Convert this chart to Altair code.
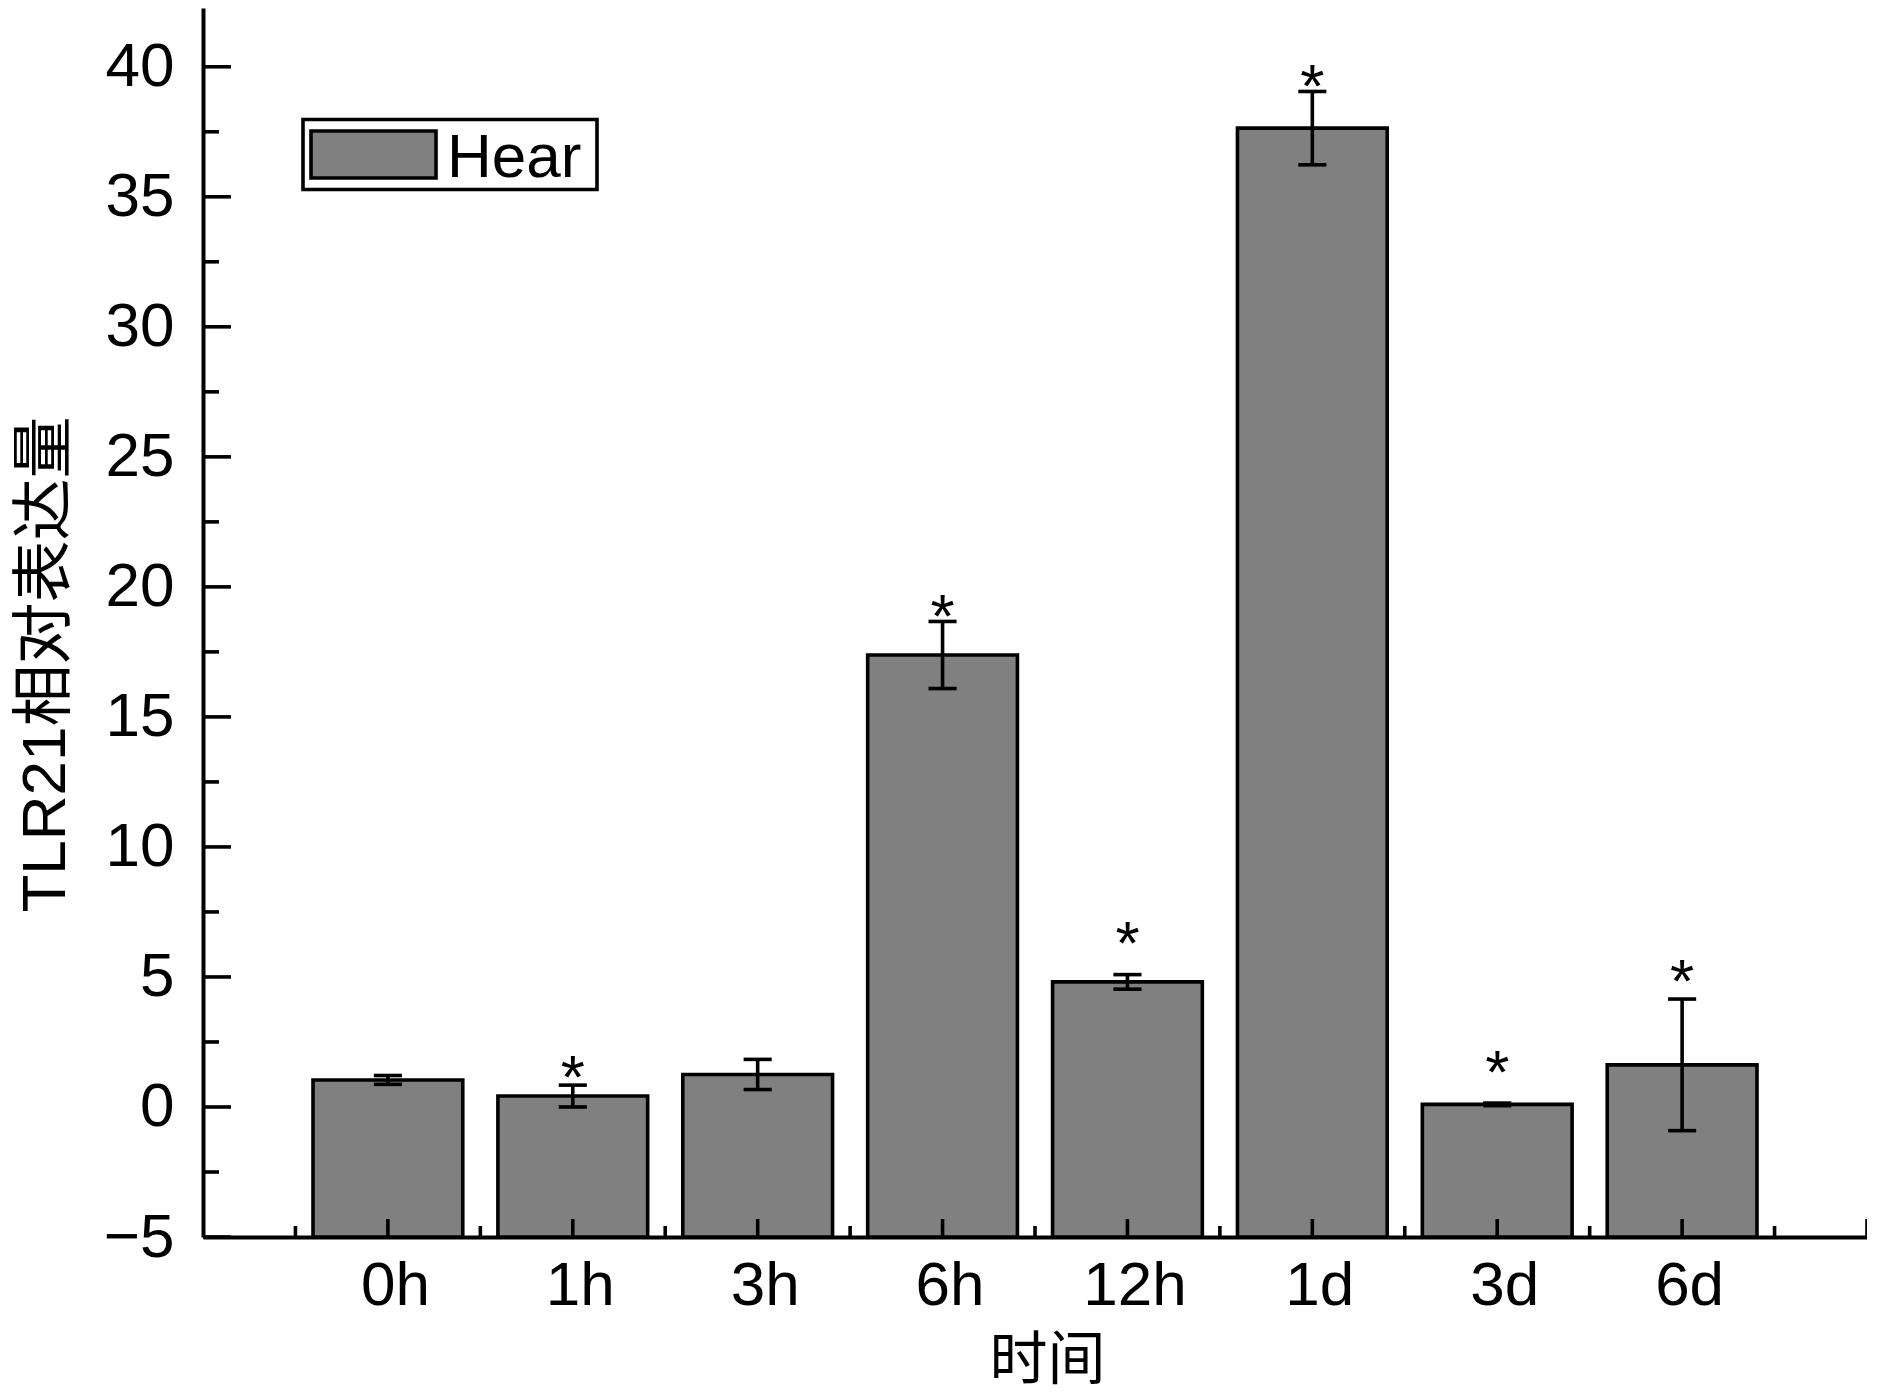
import altair as alt
import pandas as pd

# ---- data ----
times = ["0h", "1h", "3h", "6h", "12h", "1d", "3d", "6d"]
means = [1.04, 0.42, 1.25, 17.38, 4.81, 37.64, 0.10, 1.62]
errors = [0.17, 0.42, 0.58, 1.29, 0.28, 1.41, 0.05, 2.53]
star_levels = [None, 1.73, None, 19.44, 6.90, 39.82, 1.94, 5.43]
series_name = "Hear"
y_major = [-5, 0, 5, 10, 15, 20, 25, 30, 35, 40]
y_minor = [-2.5, 2.5, 7.5, 12.5, 17.5, 22.5, 27.5, 32.5, 37.5]
x_major = [0, 1, 2, 3, 4, 5, 6, 7, 8]
x_minor = [-0.5, 0.5, 1.5, 2.5, 3.5, 4.5, 5.5, 6.5, 7.5]

# ---- layout / style ----
W, H = 1664, 1229
FONT = "Liberation Sans, Arial, Noto Sans CJK SC"
CJK = "Liberation Sans, Noto Sans CJK SC"
BAR_HALF = 0.405
CAP_HALF = 0.076
LW = 3.6

idx = list(range(len(times)))
df = pd.DataFrame({
    "idx": idx,
    "time": times,
    "mean": means,
    "lo": [m - e for m, e in zip(means, errors)],
    "hi": [m + e for m, e in zip(means, errors)],
})
df["left"] = df["idx"] - BAR_HALF
df["right"] = df["idx"] + BAR_HALF
df["cl"] = df["idx"] - CAP_HALF
df["cr"] = df["idx"] + CAP_HALF

stars = pd.DataFrame({"idx": idx, "star": star_levels}).dropna()

x_scale = alt.Scale(domain=[-1, 8], nice=False, zero=False)
y_scale = alt.Scale(domain=[-5, 42.26], nice=False, zero=False)

label_expr = "[" + ",".join("'%s'" % t for t in times) + "][datum.value]"

x_axis = alt.Axis(
    values=idx, labelExpr=label_expr, ticks=False, grid=False,
    domainColor="black", domainWidth=4, labelFontSize=62, labelFont=FONT,
    labelColor="black", labelPadding=18, labelFlush=False, labelOverlap=False,
    labelBound=False, labelOffset=7,
    title="时间", titleFont=CJK, titleFontSize=58, titleFontWeight="normal",
    titleColor="black", titleX=844, titleY=124, titleBaseline="middle",
    titleAlign="center",
)
y_axis = alt.Axis(
    values=y_major, ticks=False, grid=False, domainColor="black",
    domainWidth=4, labelFontSize=62, labelFont=FONT, labelColor="black",
    labelPadding=29, labelFlush=False, labelOverlap=False, labelBound=False,
    title="TLR21相对表达量", titleFont=CJK, titleFontSize=62,
    titleFontWeight="normal", titleColor="black", titleAngle=270,
    titleX=-139, titleY=656, titleBaseline="alphabetic", titleAlign="center",
)


def X(field):
    return alt.X(field, scale=x_scale, axis=x_axis)


def Y(field):
    return alt.Y(field, scale=y_scale, axis=y_axis)


bars = alt.Chart(df).mark_rect(
    fill="#808080", stroke="black", strokeWidth=LW
).encode(x=X("left:Q"), x2="right:Q", y=Y("mean:Q"), y2=alt.datum(-5))

err_v = alt.Chart(df).mark_rule(color="black", strokeWidth=LW).encode(
    x=X("idx:Q"), y=Y("lo:Q"), y2="hi:Q")
cap_hi = alt.Chart(df).mark_rule(color="black", strokeWidth=LW).encode(
    x=X("cl:Q"), x2="cr:Q", y=Y("hi:Q"))
cap_lo = alt.Chart(df).mark_rule(color="black", strokeWidth=LW).encode(
    x=X("cl:Q"), x2="cr:Q", y=Y("lo:Q"))

star_txt = alt.Chart(stars).mark_text(
    text="*", font=FONT, fontSize=62, color="black", baseline="alphabetic",
    align="center", dy=36,
).encode(x=X("idx:Q"), y=Y("star:Q"))

# inward ticks
xmaj = alt.Chart(pd.DataFrame({"v": x_major})).mark_rule(color="black", strokeWidth=LW).encode(
    x=X("v:Q"), y=alt.value(H), y2=alt.value(H - 18))
xmin = alt.Chart(pd.DataFrame({"v": x_minor})).mark_rule(color="black", strokeWidth=LW).encode(
    x=X("v:Q"), y=alt.value(H), y2=alt.value(H - 11))
ymaj = alt.Chart(pd.DataFrame({"v": y_major})).mark_rule(color="black", strokeWidth=LW).encode(
    y=Y("v:Q"), x=alt.value(0), x2=alt.value(28))
ymin = alt.Chart(pd.DataFrame({"v": y_minor})).mark_rule(color="black", strokeWidth=LW).encode(
    y=Y("v:Q"), x=alt.value(0), x2=alt.value(16))

# legend box
leg_df = pd.DataFrame({"name": [series_name]})
leg_box = alt.Chart(leg_df).mark_rect(fill="white", stroke="black", strokeWidth=LW).encode(
    x=alt.value(100), x2=alt.value(394), y=alt.value(111.5), y2=alt.value(181.5))
leg_sw = alt.Chart(leg_df).mark_rect(fill="#808080", stroke="black", strokeWidth=LW).encode(
    x=alt.value(108), x2=alt.value(233), y=alt.value(123), y2=alt.value(170))
leg_tx = alt.Chart(leg_df).mark_text(
    font=FONT, fontSize=62, color="black", align="left", baseline="alphabetic"
).encode(x=alt.value(244), y=alt.value(169), text="name:N")

chart = alt.layer(
    bars, err_v, cap_hi, cap_lo, star_txt, xmaj, xmin, ymaj, ymin,
    leg_box, leg_sw, leg_tx,
).properties(
    width=W, height=H,
    autosize=alt.AutoSizeParams(type="none"),
    padding={"left": 195, "top": 0, "right": 0, "bottom": 153},
    background="white",
).configure_view(stroke=None)

chart.save("out.html", embed_options={"renderer": "svg", "actions": False})
